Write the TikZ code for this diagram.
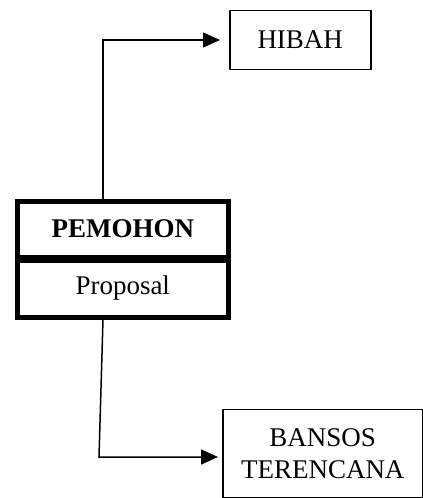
\documentclass[tikz,border=0pt]{standalone}
\usepackage{fontspec}
\setmainfont{Liberation Serif}
\usetikzlibrary{arrows.meta}
\begin{document}
\begin{tikzpicture}[x=1pt,y=-1pt,
  every node/.style={font=\fontsize{27}{32}\selectfont},
  heavybox/.style={draw, line width=5pt, minimum width=211.5pt, inner sep=0pt, anchor=north west},
  plainbox/.style={draw, line width=1.5pt, inner sep=0pt, anchor=north west, align=center},
  link/.style={draw, line width=1.5pt, -{Triangle[length=17pt,width=15pt]}}
]
\useasboundingbox (0,0) rectangle (423,498);

% applicant block: name above, proposal below
\node[heavybox, minimum height=56pt, font=\fontsize{27}{32}\selectfont\bfseries] (pem) at (14.5,198.5) {PEMOHON};
\node[heavybox, minimum height=57pt] (prop) at (14.5,257.5) {Proposal};

% target boxes
\node[plainbox, minimum width=141pt, minimum height=59pt] (hibah) at (229,9.5) {HIBAH};
\node[plainbox, minimum width=200pt, minimum height=88pt] (bansos) at (222,408.5) {BANSOS\\TERENCANA};

% routing points
\coordinate (upturn) at (103,40);
\coordinate (downturn) at (99,457);
\coordinate (downstart) at (103,314.5);

% connectors
\draw[link, shorten >=9pt] (pem.north -| upturn) -- (upturn) -- (upturn -| hibah.west);
\draw[link, shorten >=4pt] (prop.south -| downstart) -- (downturn) -- (downturn -| bansos.west);
\end{tikzpicture}
\end{document}
